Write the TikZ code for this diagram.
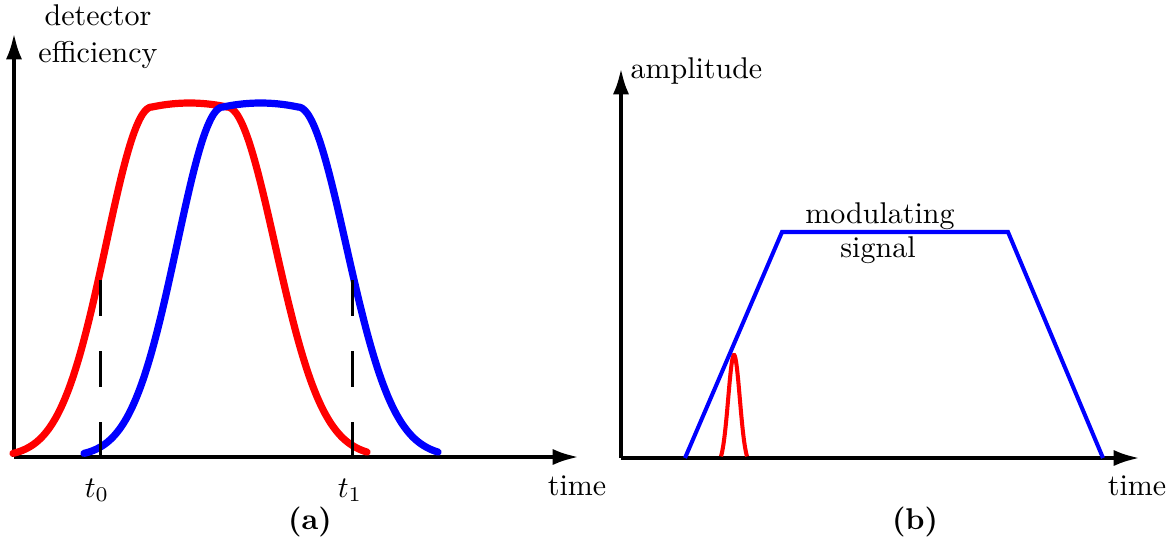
\documentclass[tikz,border=0pt]{standalone}
\usetikzlibrary{arrows.meta}
\begin{document}
\begin{tikzpicture}[x=0.33333pt,y=-0.33333pt,
  axis/.style={line width=1.4pt,-{Latex[length=8.8pt,width=5.4pt]}},
  curve/.style={line width=2.4pt,line cap=round,line join=round},
  thin curve/.style={line width=1.35pt,line join=miter},
  marker/.style={line width=1pt,dash pattern=on 12pt off 11.7pt},
  lbl/.style={inner sep=0pt,anchor=base}]
\useasboundingbox (0,0) rectangle (1172,546);
% ---------- panel (a) ----------
\coordinate (oa) at (14,457);
\coordinate (ya) at (14,33);
\coordinate (xa) at (579,457);
\draw[axis] (oa) -- (ya);
\draw[axis] (oa) -- (xa);
% red efficiency curve
\draw[curve,red]
  plot[domain=13:152,samples=60,smooth] (\x,{457-350*exp(-0.5*((\x-152)/46)^2)})
  -- plot[domain=152:227,samples=20,smooth] (\x,{107-4*(1-((\x-189.5)/37.5)^2)})
  -- plot[domain=227:367,samples=60,smooth] (\x,{457-350*exp(-0.5*((\x-227)/48)^2)});
% blue efficiency curve
\draw[curve,blue]
  plot[domain=84:223,samples=60,smooth] (\x,{457-350*exp(-0.5*((\x-223)/46)^2)})
  -- plot[domain=223:298,samples=20,smooth] (\x,{107-4*(1-((\x-260.5)/37.5)^2)})
  -- plot[domain=298:438,samples=60,smooth] (\x,{457-350*exp(-0.5*((\x-298)/48)^2)});
\coordinate (d0top) at (100,280);
\coordinate (d0bot) at (100,457);
\coordinate (d1top) at (352,280);
\coordinate (d1bot) at (352,457);
\draw[marker] (d0top) -- (d0bot);
\draw[marker] (d1top) -- (d1bot);
\node[lbl] (det) at (98,25) {detector};
\node[lbl] (eff) at (98,62) {efficiency};
\node[lbl] (t0) at (97,497) {$t_0$};
\node[lbl] (t1) at (350,497) {$t_1$};
\node[lbl] (timea) at (577,495) {time};
\node[lbl] (capa) at (310,529) {\textbf{(a)}};
% ---------- panel (b) ----------
\coordinate (ob) at (621,458);
\coordinate (yb) at (621,68);
\coordinate (xb) at (1140,458);
\draw[axis] (ob) -- (yb);
\draw[axis] (ob) -- (xb);
\draw[thin curve,red]
  plot[domain=721:747,samples=50,smooth] (\x,{458-103*(exp(-0.5*((\x-734)/5.8)^2)-0.0664)/0.9336});
\coordinate (m0) at (685,458);
\coordinate (m1) at (782,232);
\coordinate (m2) at (1008,232);
\coordinate (m3) at (1103,458);
\draw[thin curve,blue] (m0) -- (m1) -- (m2) -- (m3);
\node[lbl,anchor=base west] (amp) at (630,78) {amplitude};
\node[lbl] (mod) at (880,223) {modulating};
\node[lbl] (sig) at (878,257) {signal};
\node[lbl] (timeb) at (1137,495) {time};
\node[lbl] (capb) at (915,529) {\textbf{(b)}};
\end{tikzpicture}
\end{document}
